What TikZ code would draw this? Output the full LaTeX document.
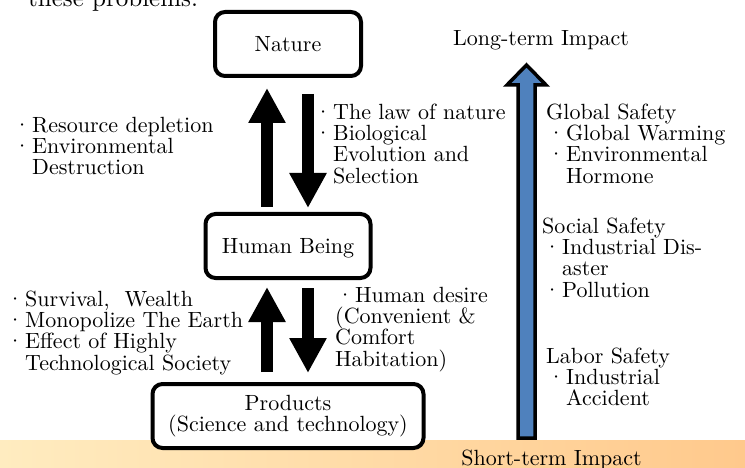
\documentclass[tikz,border=0pt]{standalone}
\usepackage{fontspec}
\setmainfont{lmroman10-regular.otf}
\usetikzlibrary{arrows.meta,calc}
\definecolor{arrowblue}{HTML}{4F81BD}
\definecolor{bandL}{HTML}{FFECC0}
\definecolor{bandR}{HTML}{FFC98C}
\newcommand\dt{\makebox[20pt][c]{\textperiodcentered}}
\newcommand\ii{\hspace*{20pt}}
\newcommand\fst{\rule{0pt}{17pt}}
\begin{document}
\begin{tikzpicture}[x=1pt,y=-1pt,
  every node/.style={font=\fontsize{22}{21.3}\selectfont},
  boxbase/.style={draw, line width=4pt, rounded corners=10pt, fill=white, minimum height=64pt, inner sep=0pt},
  box/.style={boxbase, text height=15pt, text depth=0pt},
  txt/.style={anchor=north west, inner sep=0pt, align=left},
  bigarrow/.style={line width=12.5pt, -{Triangle[length=35pt,width=35pt]}}
]
\useasboundingbox (0,0) rectangle (745,468);
\clip (0,0) rectangle (745,468);
\shade[left color=bandL, right color=bandR] (0,440) rectangle (745,468);

\node[anchor=base west, inner sep=0pt, font=\fontsize{25}{25}\selectfont] (intro) at (28,7) {these problems.};

\node[box, minimum width=146pt] (nature) at (288,44) {Nature};
\node[box, minimum width=165pt] (human) at (288,246) {Human Being};
\node[boxbase, minimum width=271pt, align=center] (prod) at (288,416) {Products\\(Science and technology)};

\draw[bigarrow] ($(human.north)+(-21,-5)$) -- ($(nature.south)+(-21,10)$);
\draw[bigarrow] ($(nature.south)+(20,16)$) -- ($(human.north)+(20,-4)$);
\draw[bigarrow] ($(prod.north)+(-21,-10)$) -- ($(human.south)+(-21,7)$);
\draw[bigarrow] ($(human.south)+(20,8)$) -- ($(prod.north)+(20,-9)$);

\draw[line width=3.5pt, fill=arrowblue, line join=miter] (518,438) -- (518,85) -- (507,85) -- (526.5,65) -- (546,85) -- (535,85) -- (535,438) -- cycle;

\node[anchor=base, inner sep=0pt] (lt) at (541,46) {Long-term Impact};
\node[anchor=base, inner sep=0pt] (st) at (551.5,465) {Short-term Impact};

\node[txt] (lu) at (12,115) {\fst\dt Resource depletion\\ \dt Environmental\\ \ii Destruction};
\node[txt] (ru) at (313,102) {\fst\dt The law of nature\\ \dt Biological\\ \ii Evolution and\\ \ii Selection};
\node[txt] (ll) at (5,289) {\fst\dt Survival,\hspace{15pt}Wealth\\ \dt Monopolize The Earth\\ \dt Effect of Highly\\ \ii Technological Society};
\node[txt] (rl) at (335,285) {\fst\dt Human desire\\ (Convenient \&\\ Comfort\\ Habitation)};
\node[txt] (gs) at (546,102) {\fst Global Safety\\ \dt Global Warming\\ \dt Environmental\\ \ii Hormone};
\node[txt] (ss) at (542,216) {\fst Social Safety\\ \dt Industrial Dis-\\ \ii aster\\ \dt Pollution};
\node[txt] (ls) at (546,346) {\fst Labor Safety\\ \dt Industrial\\ \ii Accident};
\end{tikzpicture}
\end{document}
